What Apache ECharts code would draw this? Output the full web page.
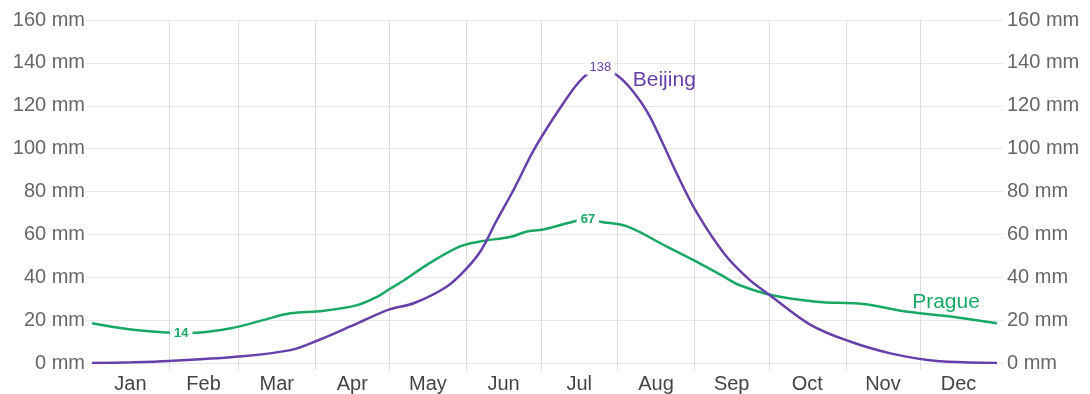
<!DOCTYPE html>
<html>
<head>
<meta charset="utf-8">
<script src="https://cdn.jsdelivr.net/npm/echarts@6/dist/echarts.min.js"></script>
<style>
  html, body { margin: 0; padding: 0; background: #fff; }
  #chart { width: 1090px; height: 394px; }
</style>
</head>
<body>
<div id="chart"></div>
<script>
// Monthly precipitation through the year (day of year on x, mm on y)
const months = ['Jan', 'Feb', 'Mar', 'Apr', 'May', 'Jun', 'Jul', 'Aug', 'Sep', 'Oct', 'Nov', 'Dec'];
const monthDays = [31, 28, 31, 30, 31, 30, 31, 31, 30, 31, 30, 31];
const yTicks = [0, 20, 40, 60, 80, 100, 120, 140, 160];

const beijingDays = [0, 16, 31, 58, 80, 91, 107, 120, 130, 143, 151, 157, 163, 170, 179, 191, 198, 205, 212, 218, 224, 230, 236, 244, 255, 265, 273, 290, 306, 322, 337, 345, 365];
const beijingMm   = [0, 0.3, 0.9, 2.9, 6, 10.5, 18.5, 25, 28, 35.6, 44, 52.7, 66, 80.7, 101, 122.7, 133, 138, 134, 127, 117, 103, 88, 70, 51, 39, 32, 17.7, 9.9, 4.5, 1.4, 0.6, 0];

const pragueDays = [0, 15, 30, 36, 42, 56, 69, 80, 93, 107, 115, 120, 126, 136, 148, 156, 169, 175, 182, 194, 200, 205, 216, 232, 244, 256, 261, 274, 292, 311, 329, 347, 365];
const pragueMm   = [18.5, 15.7, 14.2, 14, 14.1, 16.2, 20, 23.2, 24.3, 27, 30.9, 34.5, 38.7, 46.5, 54.2, 56.6, 58.9, 61.2, 62.3, 65.9, 67, 65.9, 63.6, 54.2, 47.2, 39.5, 36.4, 31.7, 28.6, 27.5, 23.9, 21.6, 18.5];

const PURPLE = '#663fa8';
const GREEN = '#19a864';
const FONT = 'Liberation Sans, Arial, sans-serif';

// Month boundaries (ticks / grid lines) and month centres (labels)
const monthStarts = [];
const monthMids = [];
let acc = 0;
monthDays.forEach(function (d) {
  monthMids.push(acc + d / 2);
  acc += d;
  monthStarts.push(acc);
});
const yearLength = acc;
const boundaries = monthStarts.slice(0, -1);

function monthNameAt(v) {
  for (let i = 0; i < monthMids.length; i++) {
    if (Math.abs(monthMids[i] - v) < 0.01) return months[i];
  }
  return '';
}

// Build [day, value] pairs; extreme points get an inline value label
function buildSeries(days, values, labelled, color, bold) {
  return days.map(function (d, i) {
    const item = { value: [d, values[i]] };
    if (labelled.indexOf(i) >= 0) {
      item.symbol = 'circle';
      item.symbolSize = 1;
      item.label = {
        show: true,
        position: 'inside',
        formatter: function (p) { return String(p.value[1]); },
        color: color,
        fontFamily: FONT,
        fontSize: 13,
        fontWeight: bold ? 'bold' : 'normal',
        backgroundColor: '#fff',
        padding: [1, 4, 1, 4]
      };
    }
    return item;
  });
}

function argMax(arr) { return arr.indexOf(Math.max.apply(null, arr)); }
function argMin(arr) { return arr.indexOf(Math.min.apply(null, arr)); }

const bjPeak = argMax(beijingMm);
const prPeak = argMax(pragueMm);
const prLow = argMin(pragueMm);
const prLast = pragueDays.length - 1;

const gridColor = '#e8e8e8';
const vGridColor = '#dcdcdc';

const yAxisCommon = {
  type: 'value',
  min: yTicks[0],
  max: yTicks[yTicks.length - 1],
  interval: yTicks[1] - yTicks[0],
  axisLine: { show: false },
  axisTick: { show: true, length: 6, lineStyle: { color: gridColor } },
  axisLabel: {
    formatter: '{value} mm',
    color: '#666',
    fontFamily: FONT,
    fontSize: 20
  }
};

// Series name tag placed relative to one of the series' own points
function nameTag(text, color, coord, offset) {
  return {
    symbol: 'circle',
    symbolSize: 1,
    silent: true,
    itemStyle: { color: 'rgba(0,0,0,0)' },
    label: {
      show: true,
      formatter: text,
      color: color,
      fontFamily: FONT,
      fontSize: 21,
      position: 'inside',
      offset: offset
    },
    data: [{ coord: coord }]
  };
}

const chart = echarts.init(document.getElementById('chart'), null, { renderer: 'canvas' });

chart.setOption({
  animation: false,
  backgroundColor: '#fff',
  grid: { left: 92, right: 93, top: 20, bottom: 31, containLabel: false },
  xAxis: {
    type: 'value',
    min: 0,
    max: yearLength,
    axisLine: { show: false },
    axisTick: {
      show: true,
      length: 7,
      customValues: boundaries,
      lineStyle: { color: vGridColor }
    },
    splitLine: { show: true, lineStyle: { color: vGridColor } },
    axisLabel: {
      customValues: monthMids,
      formatter: monthNameAt,
      color: '#444',
      fontFamily: FONT,
      fontSize: 20,
      margin: 11
    }
  },
  yAxis: [
    Object.assign({}, yAxisCommon, {
      position: 'left',
      splitLine: { show: true, lineStyle: { color: gridColor } },
      axisLabel: Object.assign({}, yAxisCommon.axisLabel, { margin: 7 })
    }),
    Object.assign({}, yAxisCommon, {
      position: 'right',
      splitLine: { show: false },
      axisLabel: Object.assign({}, yAxisCommon.axisLabel, { margin: 10 })
    })
  ],
  series: [
    {
      name: 'Prague',
      type: 'line',
      smooth: 0.35,
      symbol: 'none',
      lineStyle: { color: GREEN, width: 2.5 },
      itemStyle: { color: GREEN },
      data: buildSeries(pragueDays, pragueMm, [prLow, prPeak], GREEN, true),
      markPoint: nameTag('Prague', GREEN, [pragueDays[prLast], pragueMm[prLast]], [-51, -21])
    },
    {
      name: 'Beijing',
      type: 'line',
      smooth: 0.35,
      symbol: 'none',
      lineStyle: { color: PURPLE, width: 2.5 },
      itemStyle: { color: PURPLE },
      data: buildSeries(beijingDays, beijingMm, [bjPeak], PURPLE, false),
      markPoint: nameTag('Beijing', PURPLE, [beijingDays[bjPeak], beijingMm[bjPeak]], [64, 13])
    }
  ]
});
</script>
</body>
</html>
